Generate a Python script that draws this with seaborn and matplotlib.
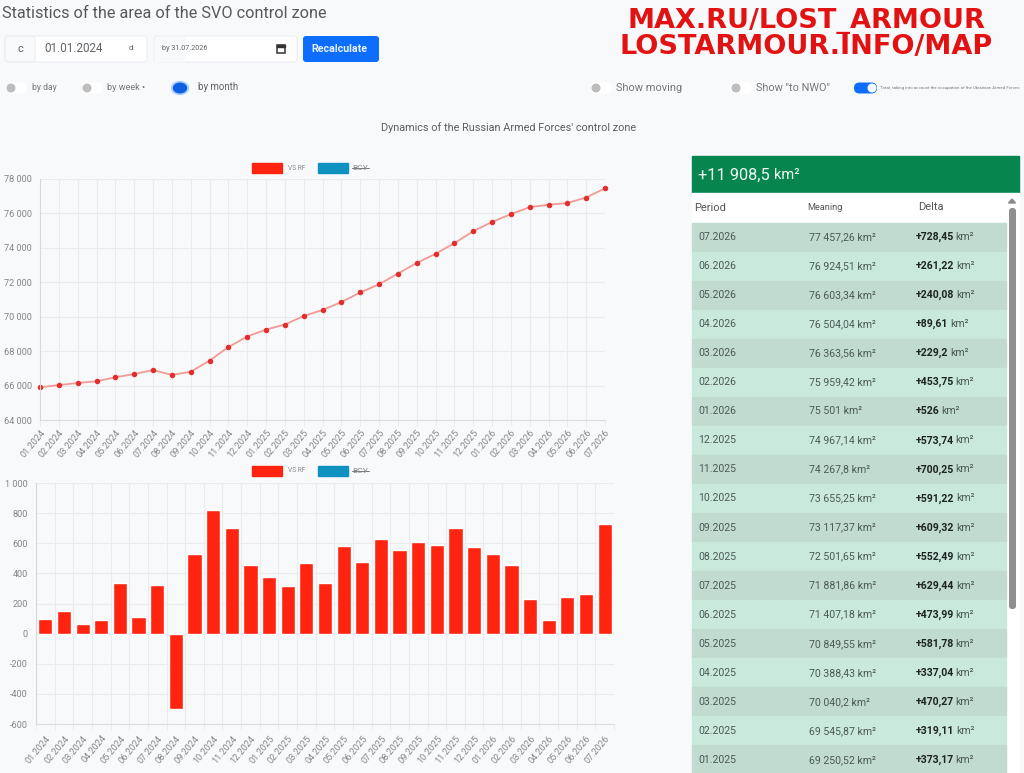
import matplotlib
matplotlib.use("Agg")
import matplotlib.pyplot as plt
import numpy as np
import pandas as pd
import seaborn as sns
from matplotlib.patches import Circle, Ellipse, FancyBboxPatch, Polygon, Rectangle

# Monthly data
months = ["01.2024", "02.2024", "03.2024", "04.2024", "05.2024", "06.2024", "07.2024", "08.2024",
          "09.2024", "10.2024", "11.2024", "12.2024", "01.2025", "02.2025", "03.2025", "04.2025",
          "05.2025", "06.2025", "07.2025", "08.2025", "09.2025", "10.2025", "11.2025", "12.2025",
          "01.2026", "02.2026", "03.2026", "04.2026", "05.2026", "06.2026", "07.2026"]
area = [65900, 66030, 66150, 66250, 66480, 66670, 66900, 66620,
        66800, 67450, 68230, 68850, 69250.52, 69545.87, 70040.2, 70388.43,
        70849.55, 71407.18, 71881.86, 72501.65, 73117.37, 73655.25, 74267.8, 74967.14,
        75501, 75959.42, 76363.56, 76504.04, 76603.34, 76924.51, 77457.26]
delta = [98, 152, 62, 92, 335, 112, 320, -500,
         530, 820, 700, 455, 373.17, 319.11, 470.27, 337.04,
         581.78, 473.99, 629.44, 552.49, 609.32, 591.22, 700.25, 573.74,
         526, 453.75, 229.2, 89.61, 240.08, 261.22, 728.45]

area_ticks = [64000, 66000, 68000, 70000, 72000, 74000, 76000, 78000]
delta_ticks = [-600, -400, -200, 0, 200, 400, 600, 800, 1000]

# Table rows as printed on the page
table_period = ["07.2026", "06.2026", "05.2026", "04.2026", "03.2026", "02.2026", "01.2026", "12.2025",
                "11.2025", "10.2025", "09.2025", "08.2025", "07.2025", "06.2025", "05.2025", "04.2025",
                "03.2025", "02.2025", "01.2025"]
table_value = ["77 457,26", "76 924,51", "76 603,34", "76 504,04", "76 363,56", "75 959,42", "75 501",
               "74 967,14", "74 267,8", "73 655,25", "73 117,37", "72 501,65", "71 881,86", "71 407,18",
               "70 849,55", "70 388,43", "70 040,2", "69 545,87", "69 250,52"]
table_delta = ["+728,45", "+261,22", "+240,08", "+89,61", "+229,2", "+453,75", "+526", "+573,74",
               "+700,25", "+591,22", "+609,32", "+552,49", "+629,44", "+473,99", "+581,78", "+337,04",
               "+470,27", "+319,11", "+373,17"]

page = "#f8f9fb"
grid = "#ebebeb"
tick_grey = "#858585"
text_grey = "#5f6368"
red = "#ff2410"
blue_legend = "#1092c0"

sns.set_theme(style="whitegrid")
plt.rcParams["font.family"] = ["Roboto", "DejaVu Sans"]

W, H = 1024, 773
fig = plt.figure(figsize=(W / 100, H / 100), dpi=100, facecolor=page)


def axes_box(left, top, right, bottom):
    return [left / W, 1 - bottom / H, (right - left) / W, (bottom - top) / H]


df = pd.DataFrame({"month": months, "area": area, "delta": delta})

# Page furniture goes on an overlay measured in pixels
ui = fig.add_axes([0, 0, 1, 1], zorder=0)
ui.set_xlim(0, W)
ui.set_ylim(H, 0)
ui.axis("off")


def label(x, y, s, size=8, color=text_grey, **kw):
    kw.setdefault("va", "center")
    return ui.text(x, y, s, fontsize=size, color=color, **kw)


def round_box(x0, y0, x1, y1, face, edge="none", r=3):
    ui.add_patch(FancyBboxPatch((x0, y0), x1 - x0, y1 - y0, boxstyle=f"round,pad=0,rounding_size={r}",
                                facecolor=face, edgecolor=edge, linewidth=0.7))


def switch_off(x, y, text, text_x, size):
    round_box(x, y - 5.5, x + 21, y + 5.5, "white", r=5.5)
    ui.add_patch(Circle((x + 5, y), 3.8, color="#bdbdbd"))
    label(text_x, y, text, size=size, color="#777777")


label(2, 13, "Statistics of the area of the SVO control zone", size=11.7, color="#55595e")

# Date inputs
round_box(5, 36, 147, 62, "white", "#e9ecef")
round_box(5, 36, 35, 62, page, "#e9ecef")
label(20, 49, "c", size=8, ha="center")
label(44, 49, "01.01.2024", size=8.4)
label(131, 48, "d", size=6, ha="center")
round_box(154, 36, 297, 62, "white", "#e9ecef")
ui.add_patch(Rectangle((155, 37), 29, 24, color=page))
label(162, 48, "by 31.07.2026", size=5.2)
ui.add_patch(Rectangle((277, 44.5), 8, 8, facecolor="none", edgecolor="#333333", linewidth=1.1))
ui.add_patch(Rectangle((277, 44.5), 8, 2, color="#333333"))
round_box(303, 36, 379, 62, "#0d6efd")
label(339, 49.5, "Recalculate", size=7.7, color="#e8f1ff", ha="center", fontweight="bold")

# Switches
switch_off(6, 88, "by day", 32, 6.2)
switch_off(82, 88, "by week •", 107, 6.6)
ui.add_patch(Ellipse((180, 88), 17, 13, color="#a8d0f8"))
ui.add_patch(Ellipse((180, 88), 13, 9.5, color="#0d5fe8"))
label(198, 87.5, "by month", size=7)
switch_off(591, 88, "Show moving", 616, 7.9)
switch_off(731, 88, 'Show "to NWO"', 756, 7.8)
round_box(854, 82.5, 877, 93.5, "#0d6efd", r=5.5)
ui.add_patch(Circle((872, 88), 3.8, color="white"))
label(880, 87.5, "Total, taking into account the occupation of the Ukrainian Armed Forces", size=3.2, color="#777777")

# Watermark
label(806, 21, "MAX.RU/LOST_ARMOUR", size=19.5, color="#e21212", ha="center", fontweight="bold",
      family="DejaVu Sans")
label(806, 47, "LOSTARMOUR.INFO/MAP", size=19.5, color="#e21212", ha="center", fontweight="bold",
      family="DejaVu Sans")

label(509, 128, "Dynamics of the Russian Armed Forces' control zone", size=7.85, ha="center", color="#5a5f64")

# Chart legends
for y in (168, 471):
    ui.add_patch(Rectangle((252, y - 5), 30, 10, color=red))
    label(288, y, "VS RF", size=4.8, color="#8a8a8a")
    ui.add_patch(Rectangle((318, y - 5), 30, 10, color=blue_legend))
    label(352, y, "ВСУ", size=6, color="#8a8a8a")
    ui.plot([352, 369], [y, y], color="#777777", lw=0.7)

# Cumulative area
ax_line = fig.add_axes(axes_box(40, 179, 605, 420), zorder=1)
sns.lineplot(data=df, x="month", y="area", ax=ax_line, color="#f29a94", linewidth=1.3, marker="o",
             markersize=3.2, markerfacecolor="#e22d2d", markeredgecolor="#e22d2d", clip_on=False)
ax_line.set_xlim(0, len(months) - 1)
ax_line.set_ylim(area_ticks[0], area_ticks[-1])
ax_line.set_yticks(area_ticks)
ax_line.set_yticklabels([f"{v:,}".replace(",", " ") for v in area_ticks])
ax_line.set_xticks(range(len(months)))
ax_line.set_xticklabels(months, rotation=50, ha="right", rotation_mode="anchor")

# Monthly change
ax_bar = fig.add_axes(axes_box(36, 483, 614, 724), zorder=1)
sns.barplot(data=df, x="month", y="delta", ax=ax_bar, color=red, saturation=1, width=0.76)
ax_bar.set_xlim(-0.5, len(months) - 0.5)
ax_bar.set_ylim(delta_ticks[0], delta_ticks[-1])
ax_bar.set_yticks(delta_ticks)
ax_bar.set_yticklabels([f"{v:,}".replace(",", " ") for v in delta_ticks])
ax_bar.set_xticks(range(len(months)))
ax_bar.set_xticklabels(months, rotation=50, ha="right", rotation_mode="anchor")
ax_bar.set_xticks(np.arange(-0.5, len(months)), minor=True)
ax_bar.grid(False, axis="x", which="major")
ax_bar.grid(True, axis="x", which="minor", color=grid, linewidth=0.8)
ax_bar.tick_params(axis="x", which="minor", length=4, color=grid, width=0.8, bottom=True)
ax_bar.tick_params(axis="x", which="major", length=0, pad=7)

for ax in (ax_line, ax_bar):
    ax.patch.set_alpha(0)
    ax.set_xlabel("")
    ax.set_ylabel("")
    ax.set_axisbelow(True)
    ax.grid(True, axis="y", color=grid, linewidth=0.8)
    ax.tick_params(axis="both", which="major", labelsize=6.6, labelcolor=tick_grey, color=grid, width=0.8)
    ax.tick_params(axis="y", length=4, pad=2)
    for side in ax.spines:
        ax.spines[side].set_visible(False)
    ax.spines["left"].set_visible(True)
    ax.spines["left"].set_color("#d8d8d8")
    ax.spines["left"].set_linewidth(0.8)
    ax.spines["bottom"].set_visible(True)
    ax.spines["bottom"].set_color("#dddddd")
    ax.spines["bottom"].set_linewidth(0.8)
ax_line.grid(True, axis="x", color=grid, linewidth=0.8)
ax_line.tick_params(axis="x", length=4, pad=2, bottom=True)

# Summary table
ui.add_patch(Rectangle((692, 156), 327, 37, color="#06854f"))
gain = label(698, 175, "+11 908,5", size=11.8, color="#f0f7f3")
ui.add_patch(Rectangle((692, 193), 327, 580, color="white"))
label(694, 208, "Period", size=8, color="#555555")
label(807, 207, "Meaning", size=6.6, color="#555555")
label(918, 207, "Delta", size=8, color="#555555")

row_h = 29.05
fig.canvas.draw()
renderer = fig.canvas.get_renderer()
r = gain.get_window_extent(renderer)
label(r.x1 + 4, 175, "km²", size=10.5, color="#f0f7f3")

for i, (period, value, change) in enumerate(zip(table_period, table_value, table_delta)):
    top = 222.5 + i * row_h
    shade = "#c1dbd0" if i % 2 == 0 else "#c9e9dd"
    ui.add_patch(Rectangle((692, top), 314, row_h - 0.6, color=shade))
    mid = top + row_h / 2
    label(698, mid, period, size=7.6, color="#4c5a55")
    label(809, mid, value + " km²", size=7.6, color="#4c5a55")
    t = label(916, mid, change, size=7.6, color="#1d2422", fontweight="bold")
    x_end = t.get_window_extent(renderer).x1
    label(x_end + 1.5, mid, "km²", size=7.6, color="#4c5a55")

# Scrollbar
ui.add_patch(Polygon([[1008.5, 203], [1015.5, 203], [1012, 199]], color="#8a8a8a"))
round_box(1009, 208, 1016, 609, "#8f8f8f", r=3)

fig.savefig("out.png", dpi=100, facecolor=page)
